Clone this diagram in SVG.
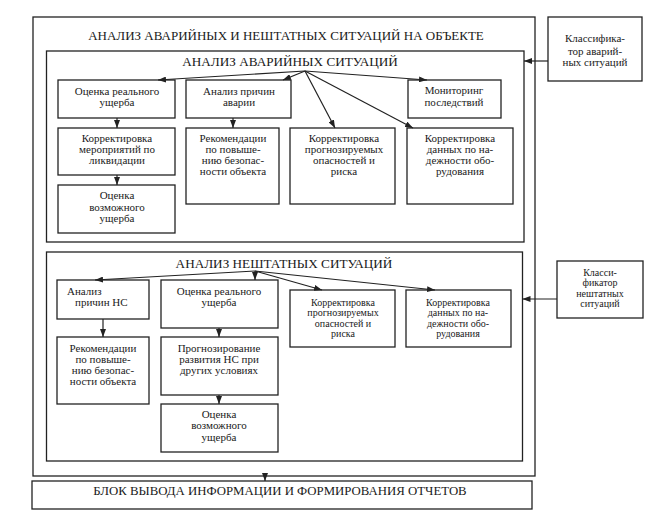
<svg xmlns="http://www.w3.org/2000/svg" width="672" height="517" viewBox="0 0 672 517">
<style>
.box{fill:none;stroke:#222;stroke-width:1.3}
.t{font-family:"Liberation Serif","DejaVu Serif",serif;font-size:11px;fill:#1a1a1a;text-anchor:middle}
.s{font-size:10px}
.h{font-family:"Liberation Serif","DejaVu Serif",serif;font-size:13.2px;fill:#1a1a1a;text-anchor:middle}
.c{fill:none;stroke:#222;stroke-width:1.2;marker-end:url(#ah)}
</style>
<defs>
<marker id="ah" markerUnits="userSpaceOnUse" markerWidth="8" markerHeight="6" refX="8" refY="3" orient="auto">
<path d="M0,0 L8,3 L0,6 z" fill="#222"/>
</marker>
</defs>
<rect width="672" height="517" fill="#fff"/>

<g id="outer">
<rect class="box" x="33" y="17" width="502" height="459"/>
<text class="h" x="286" y="40" style="font-size:13px">АНАЛИЗ АВАРИЙНЫХ И НЕШТАТНЫХ СИТУАЦИЙ НА ОБЪЕКТЕ</text>
</g>

<g id="accident">
<rect class="box" x="46.5" y="51" width="477.5" height="191"/>
<text class="h" x="290" y="66">АНАЛИЗ АВАРИЙНЫХ СИТУАЦИЙ</text>
</g>

<g id="a-real"><rect class="box" x="58" y="80" width="117" height="38"/>
<text class="t" x="117" y="95">Оценка реального</text><text class="t" x="117" y="106">ущерба</text></g>
<g id="a-cause"><rect class="box" x="186" y="80" width="105" height="38"/>
<text class="t" x="239" y="95">Анализ причин</text><text class="t" x="239" y="106">аварии</text></g>
<g id="a-monitor"><rect class="box" x="408" y="80" width="93" height="38"/>
<text class="t" x="454" y="94">Мониторинг</text><text class="t" x="454" y="106">последствий</text></g>
<g id="a-measures"><rect class="box" x="58" y="128" width="117" height="47"/>
<text class="t" x="117" y="142">Корректировка</text><text class="t" x="117" y="153">мероприятий по</text><text class="t" x="117" y="164">ликвидации</text></g>
<g id="a-possible"><rect class="box" x="58" y="185" width="117" height="48"/>
<text class="t" x="117" y="199">Оценка</text><text class="t" x="117" y="211">возможного</text><text class="t" x="117" y="222">ущерба</text></g>
<g id="a-recom"><rect class="box" x="186" y="128" width="93" height="76"/>
<text class="t" x="233" y="142">Рекомендации</text><text class="t" x="233" y="153">по повыше-</text><text class="t" x="233" y="164">нию безопас-</text><text class="t" x="233" y="175">ности объекта</text></g>
<g id="a-risk"><rect class="box" x="290" y="128" width="105" height="76"/>
<text class="t" x="344" y="142">Корректировка</text><text class="t" x="344" y="153">прогнозируемых</text><text class="t" x="344" y="164">опасностей и</text><text class="t" x="344" y="175">риска</text></g>
<g id="a-rel"><rect class="box" x="407" y="128" width="106" height="76"/>
<text class="t" x="460" y="142">Корректировка</text><text class="t" x="460" y="153">данных по на-</text><text class="t" x="460" y="164">дежности обо-</text><text class="t" x="460" y="175">рудования</text></g>

<g id="class-a"><rect class="box" x="548" y="17" width="94" height="64"/>
<text class="t" x="595" y="42">Классифика-</text><text class="t" x="595" y="55">тор аварий-</text><text class="t" x="595" y="66">ных ситуаций</text></g>

<g id="emergency">
<rect class="box" x="46.5" y="252" width="476" height="209"/>
<text class="h" x="284" y="268">АНАЛИЗ НЕШТАТНЫХ СИТУАЦИЙ</text>
</g>

<g id="n-cause"><rect class="box" x="57" y="280" width="92" height="39"/>
<text class="t" x="67" y="295" style="text-anchor:start">Анализ</text><text class="t" x="75" y="306" style="text-anchor:start">причин НС</text></g>
<g id="n-real"><rect class="box" x="161" y="280" width="117" height="48"/>
<text class="t" x="219" y="295">Оценка реального</text><text class="t" x="219" y="306">ущерба</text></g>
<g id="n-recom"><rect class="box" x="57" y="337" width="92" height="67"/>
<text class="t" x="103" y="352">Рекомендации</text><text class="t" x="103" y="363">по повыше-</text><text class="t" x="103" y="374">нию безопас-</text><text class="t" x="103" y="385">ности объекта</text></g>
<g id="n-forecast"><rect class="box" x="161" y="337" width="117" height="58"/>
<text class="t" x="219" y="352">Прогнозирование</text><text class="t" x="219" y="363">развития НС при</text><text class="t" x="219" y="374">других условиях</text></g>
<g id="n-possible"><rect class="box" x="161" y="404" width="117" height="48"/>
<text class="t" x="219" y="418">Оценка</text><text class="t" x="219" y="429">возможного</text><text class="t" x="219" y="441">ущерба</text></g>
<g id="n-risk"><rect class="box" x="290" y="290" width="105" height="57"/>
<text class="t s" x="343" y="305.5">Корректировка</text><text class="t s" x="343" y="316">прогнозируемых</text><text class="t s" x="343" y="326.5">опасностей и</text><text class="t s" x="343" y="337">риска</text></g>
<g id="n-rel"><rect class="box" x="406" y="290" width="105" height="57"/>
<text class="t s" x="458" y="305.5">Корректировка</text><text class="t s" x="458" y="316">данных по на-</text><text class="t s" x="458" y="326.5">дежности обо-</text><text class="t s" x="458" y="337">рудования</text></g>

<g id="class-n"><rect class="box" x="557" y="261" width="86" height="57"/>
<text class="t s" x="600" y="275.5">Класси-</text><text class="t s" x="600" y="286">фикатор</text><text class="t s" x="600" y="296.5">нештатных</text><text class="t s" x="600" y="307">ситуаций</text></g>

<g id="report"><rect class="box" x="32" y="481" width="500" height="28"/>
<text class="t" x="280" y="494.5" style="font-size:12.8px">БЛОК ВЫВОДА ИНФОРМАЦИИ И ФОРМИРОВАНИЯ ОТЧЕТОВ</text></g>

<g id="connectors">
<path class="c" d="M305,71 L158,80"/>
<path class="c" d="M305,71 L283,80"/>
<path class="c" d="M305,71 L335,128"/>
<path class="c" d="M305,71 L413,128"/>
<path class="c" d="M305,71 L427,80"/>
<path class="c" d="M117,118 L117,128"/>
<path class="c" d="M117,175 L117,185"/>
<path class="c" d="M233,118 L233,128"/>
<path class="c" d="M548,61 L524,61"/>
<path class="c" d="M255,271 L95,280"/>
<path class="c" d="M255,271 L255,280"/>
<path class="c" d="M255,271 L322,290"/>
<path class="c" d="M255,271 L435,290"/>
<path class="c" d="M103,319 L103,337"/>
<path class="c" d="M219,328 L219,337"/>
<path class="c" d="M219,395 L219,404"/>
<path class="c" d="M557,299 L522.5,299"/>
<path class="c" d="M265,476 L265,481"/>
</g>
</svg>
